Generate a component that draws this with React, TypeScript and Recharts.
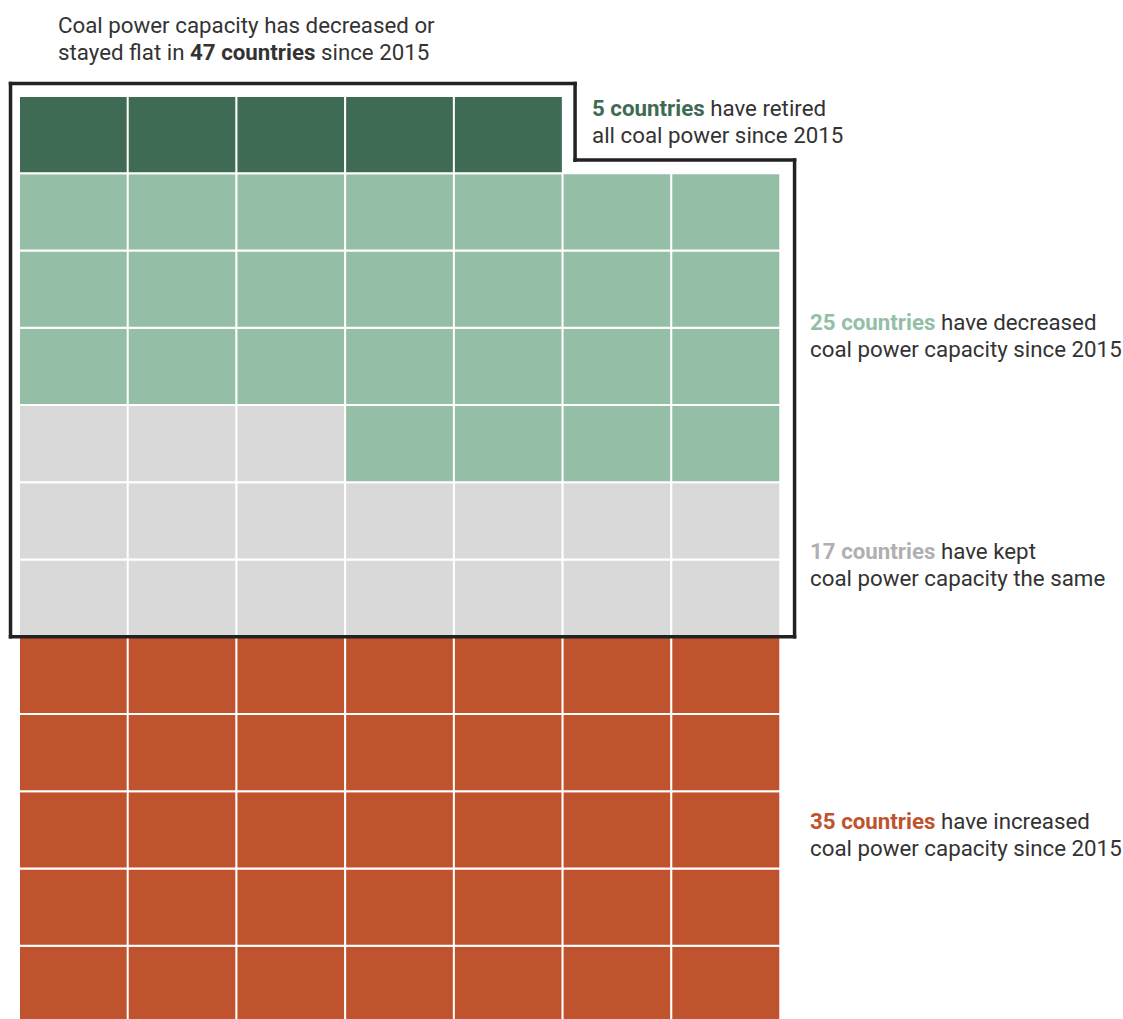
import { BarChart, Bar, Cell, XAxis, YAxis, ReferenceLine, ScatterChart } from 'recharts';

// waffle groups, filled bottom-up, left-to-right
const groups = ['Increased', 'Flat', 'Decreased', 'Retired'];
const counts = [35, 17, 25, 5];
const colors = ['#bf532d', '#d9d9d9', '#94bea6', '#3f6b55'];
const columns = ['c1', 'c2', 'c3', 'c4', 'c5', 'c6', 'c7'];
const levels = 12;

const total = counts.reduce((a, b) => a + b, 0);

function groupOf(i: number): number {
  let acc = 0;
  for (let g = 0; g < counts.length; g++) {
    acc += counts[g];
    if (i < acc) return g;
  }
  return -1;
}

const levelKeys = Array.from({ length: levels }, (_, l) => `l${l}`);

const chartData = columns.map((col, c) => {
  const row: Record<string, string | number | null> = { col };
  levelKeys.forEach((key, l) => {
    const i = l * columns.length + c;
    row[key] = i < total ? 1 : null;
  });
  return row;
});

const W = 1123;
const H = 1023;
const margin = { top: 96, right: 343, left: 19, bottom: 0 };

// outline around the "47 countries" block (retired + decreased + flat), in grid units
const nCols = columns.length;
const padL = -0.078;
const padR = nCols + 0.134;
const notchX = 5 + 0.115;
const topY = levels + 0.162;
const notchY = levels - 1 + 0.17;
const bottomY = counts[0] / nCols;

const outline: [number, number][] = [
  [padL, bottomY],
  [padL, topY],
  [notchX, topY],
  [notchX, notchY],
  [padR, notchY],
  [padR, bottomY],
  [padL, bottomY],
];

const text = '#333';
const font = 'Roboto, sans-serif';

const labelStyle: React.CSSProperties = {
  position: 'absolute',
  fontFamily: font,
  fontSize: 22.3,
  lineHeight: '27px',
  color: text,
  whiteSpace: 'nowrap',
};

export default function App() {
  return (
    <div style={{ position: 'absolute', top: 0, left: 0, width: W, height: 1019, overflow: 'hidden', background: '#fff' }}>
      <BarChart
        width={W}
        height={H}
        data={chartData}
        margin={margin}
        barCategoryGap={0}
        barGap={0}
      >
        <XAxis dataKey="col" hide />
        <YAxis type="number" domain={[0, levels]} ticks={[0, levels]} hide allowDataOverflow />
        {levelKeys.map((key, l) => (
          <Bar key={key} dataKey={key} stackId="w" stroke="#fff" strokeWidth={2} isAnimationActive={false}>
            {columns.map((col, c) => {
              const g = groupOf(l * nCols + c);
              return <Cell key={col} fill={g >= 0 ? colors[g] : 'none'} />;
            })}
          </Bar>
        ))}
      </BarChart>

      {/* outline overlay on the same grid */}
      <div style={{ position: 'absolute', top: 0, left: 0, pointerEvents: 'none' }}>
        <ScatterChart width={W} height={H} margin={margin}>
          <XAxis type="number" dataKey="x" domain={[0, nCols]} ticks={[0, nCols]} allowDataOverflow hide />
          <YAxis type="number" dataKey="y" domain={[0, levels]} ticks={[0, levels]} allowDataOverflow hide />
          {outline.slice(1).map((p, i) => (
            <ReferenceLine
              key={i}
              segment={[
                { x: outline[i][0], y: outline[i][1] },
                { x: p[0], y: p[1] },
              ]}
              stroke="#222"
              strokeWidth={3.5}
              strokeLinecap="square"
              ifOverflow="visible"
            />
          ))}
        </ScatterChart>
      </div>

      <div style={{ ...labelStyle, left: 58, top: 12 }}>
        Coal power capacity has decreased or
        <br />
        stayed flat in <b>47 countries</b> since 2015
      </div>
      <div style={{ ...labelStyle, left: 592, top: 95 }}>
        <b style={{ color: colors[3] }}>5 countries</b> have retired
        <br />
        all coal power since 2015
      </div>
      <div style={{ ...labelStyle, left: 810, top: 309 }}>
        <b style={{ color: colors[2] }}>25 countries</b> have decreased
        <br />
        coal power capacity since 2015
      </div>
      <div style={{ ...labelStyle, left: 810, top: 538 }}>
        <b style={{ color: '#b0b0b0' }}>17 countries</b> have kept
        <br />
        coal power capacity the same
      </div>
      <div style={{ ...labelStyle, left: 810, top: 808 }}>
        <b style={{ color: colors[0] }}>35 countries</b> have increased
        <br />
        coal power capacity since 2015
      </div>
    </div>
  );
}
